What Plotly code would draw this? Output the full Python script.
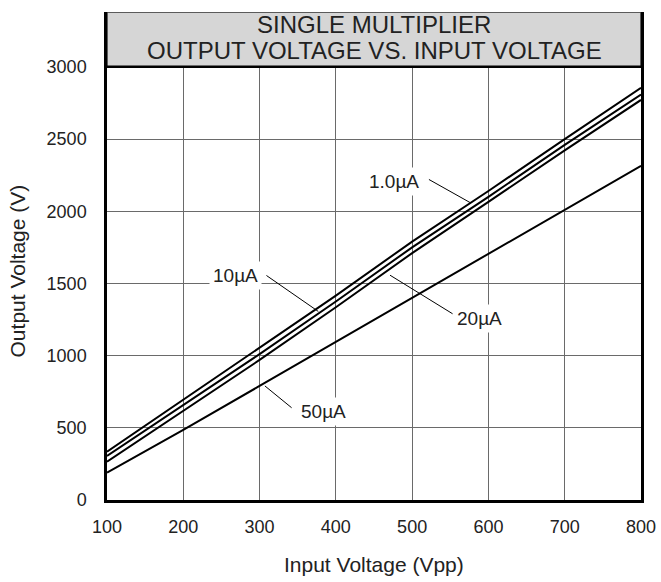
import plotly.graph_objects as go

x_vin = [100, 200, 300, 400, 500, 600, 700, 800]
series_names = ["1.0µA", "10µA", "20µA", "50µA"]
v_1ua = [335, 695, 1050, 1415, 1790, 2140, 2500, 2855]
v_10ua = [305, 660, 1010, 1375, 1750, 2100, 2460, 2808]
v_20ua = [265, 620, 970, 1335, 1710, 2065, 2422, 2771]
v_50ua = [190, 485, 790, 1095, 1404, 1710, 2015, 2315]
x_ticks = [100, 200, 300, 400, 500, 600, 700, 800]
y_ticks = [0, 500, 1000, 1500, 2000, 2500, 3000]
title_lines = ["SINGLE MULTIPLIER", "OUTPUT VOLTAGE VS. INPUT VOLTAGE"]

# label position, leader start, leader end (data coords)
labels = [
    ("1.0µA", 476, 2204, 522, 2220, 577, 2057),
    ("10µA", 268, 1555, 309, 1555, 377, 1306),
    ("20µA", 588, 1255, 471, 1557, 553, 1290),
    ("50µA", 384, 614, 307, 790, 342, 639),
]

FONT = "Liberation Sans, Arial, sans-serif"
fig = go.Figure()
for name, ys in zip(series_names, [v_1ua, v_10ua, v_20ua, v_50ua]):
    fig.add_trace(go.Scatter(x=x_vin, y=ys, mode="lines", name=name,
                             line=dict(color="black", width=2), showlegend=False))

shapes = []
annotations = []
for text, tx, ty, x0, y0, x1, y1 in labels:
    shapes.append(dict(type="line", xref="x", yref="y", x0=x0, y0=y0, x1=x1, y1=y1,
                       line=dict(color="black", width=1), layer="above"))
    annotations.append(dict(x=tx, y=ty, xref="x", yref="y", text=text, showarrow=False,
                            font=dict(size=19, color="#222", family=FONT),
                            bgcolor="white", borderpad=3))

YTOP = 3380
# header box
shapes.append(dict(type="rect", xref="x", yref="y", x0=100, x1=800, y0=3000, y1=YTOP,
                   fillcolor="#d6d6d6", line=dict(color="#333", width=1.5), layer="above"))
shapes.append(dict(type="line", xref="x", yref="y", x0=100, x1=800, y0=3000, y1=3000,
                   line=dict(color="black", width=2.5), layer="above"))
annotations.append(dict(x=450, y=3290, xref="x", yref="y", text=title_lines[0], showarrow=False,
                        font=dict(size=24, color="#222", family=FONT)))
annotations.append(dict(x=450, y=3110, xref="x", yref="y", text=title_lines[1], showarrow=False,
                        font=dict(size=24, color="#222", family=FONT)))
# axis titles
annotations.append(dict(x=0.5, y=-0.133, xref="paper", yref="paper", text="Input Voltage (Vpp)",
                        xanchor="center", yanchor="middle",
                        showarrow=False, font=dict(size=21, color="#222", family=FONT)))
annotations.append(dict(x=-0.167, y=0.47, xref="paper", yref="paper", text="Output Voltage (V)",
                        xanchor="center", yanchor="middle",
                        textangle=-90, showarrow=False, font=dict(size=21, color="#222", family=FONT)))

fig.update_layout(
    width=661, height=582,
    margin=dict(l=107, r=20, t=12, b=82),
    paper_bgcolor="white", plot_bgcolor="white",
    shapes=shapes, annotations=annotations,
    font=dict(family=FONT, size=16, color="#222"),
)
fig.update_xaxes(range=[100, 800], tickvals=x_ticks, ticktext=[str(v) for v in x_ticks],
                 showgrid=True, gridcolor="#6a6a6a", gridwidth=1,
                 showline=True, linecolor="black", linewidth=2.5,
                 ticks="", ticklabelstandoff=9, zeroline=False, automargin=False,
                 tickfont=dict(size=18))
fig.update_yaxes(range=[0, YTOP], tickvals=y_ticks, ticktext=[str(v) for v in y_ticks],
                 showgrid=True, gridcolor="#6a6a6a", gridwidth=1,
                 showline=True, mirror=True, linecolor="black", linewidth=2.5,
                 ticks="", ticklabelstandoff=14, zeroline=False, automargin=False,
                 tickfont=dict(size=18))

fig.write_html("out.html", config={"displayModeBar": False},
               post_script="document.body.style.margin='0';document.body.style.overflow='hidden';")
